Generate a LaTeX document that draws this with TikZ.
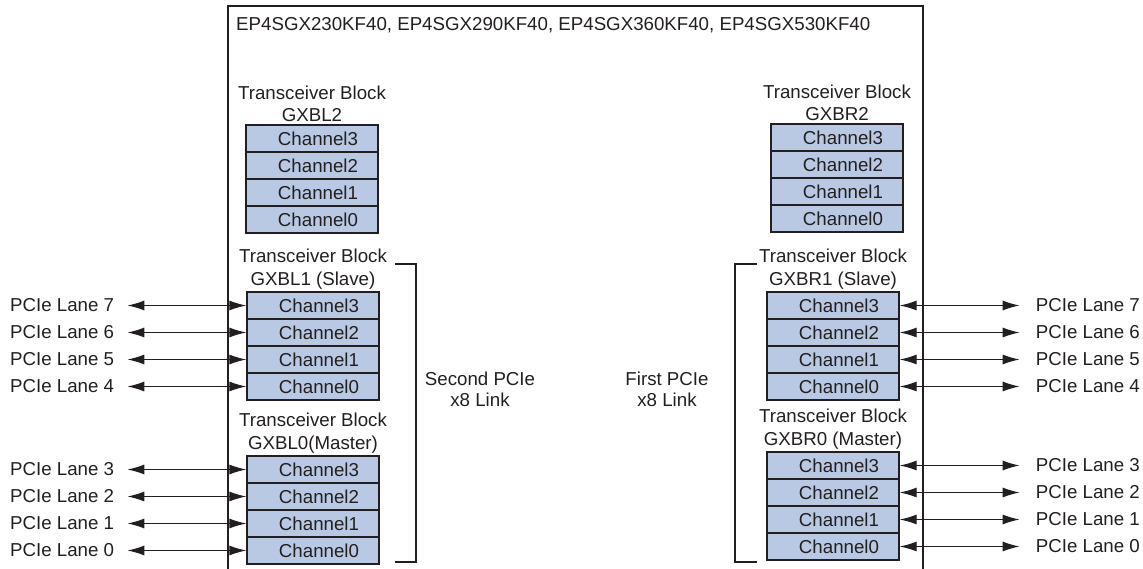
\documentclass[tikz,border=0pt]{standalone}
\usepackage{fontspec}
\setmainfont{Liberation Sans}
\usepackage{xcolor}
\usetikzlibrary{arrows.meta, positioning}
\definecolor{chanblue}{RGB}{185,201,227}
\definecolor{inkgray}{RGB}{35,31,32}

\tikzset{
chan/.style={draw=inkgray, line width=1.3, fill=chanblue, minimum width=132pt, minimum height=27pt, inner sep=0pt},
blocklabel/.style={align=center, inner sep=2pt},
lane/.style={inner sep=0pt},
lanearrow/.style={{Latex[length=17pt,width=10pt]}-{Latex[length=17pt,width=10pt]}, line width=1.2},
}

% one transceiver block: name, centre x, top y, block name
\newcommand{\xcvrblock}[4]{
\foreach \ch [count=\i from 0] in {3,2,1,0}
  \node[chan] (#1c\ch) at (#2,#3+13.5+27*\i) {\hspace*{12pt}Channel\ch};
\node[blocklabel, above=0pt of #1c3.north] (#1lbl) {Transceiver Block\\#4};
}

\begin{document}
\begin{tikzpicture}[x=1pt, y=-1pt, color=inkgray, font=\fontsize{18.7}{22.5}\selectfont]
\useasboundingbox (0,0) rectangle (1143,569);

\draw[line width=1.2] (228,569) -- (228,6) -- (923,6) -- (923,569);
\node[anchor=west, inner sep=0pt] (title) at (236,25) {EP4SGX230KF40, EP4SGX290KF40, EP4SGX360KF40, EP4SGX530KF40};

\xcvrblock{L2}{312}{125}{GXBL2}
\xcvrblock{L1}{313}{292}{GXBL1 (Slave)}
\xcvrblock{L0}{313}{456}{GXBL0(Master)}
\xcvrblock{R2}{837}{124}{GXBR2}
\xcvrblock{R1}{833}{292}{GXBR1 (Slave)}
\xcvrblock{R0}{833}{452}{GXBR0 (Master)}

\foreach \ch/\ln in {3/7,2/6,1/5,0/4}{
  \node[lane, left=132pt of L1c\ch.west] (laneL\ln) {PCIe Lane \ln};
  \draw[lanearrow, shorten >=13pt] (L1c\ch.west) -- (laneL\ln.east);
  \node[lane, right=136pt of R1c\ch.east] (laneR\ln) {PCIe Lane \ln};
  \draw[lanearrow, shorten >=16pt] (R1c\ch.east) -- (laneR\ln.west);
}
\foreach \ch/\ln in {3/3,2/2,1/1,0/0}{
  \node[lane, left=132pt of L0c\ch.west] (laneL\ln) {PCIe Lane \ln};
  \draw[lanearrow, shorten >=13pt] (L0c\ch.west) -- (laneL\ln.east);
  \node[lane, right=136pt of R0c\ch.east] (laneR\ln) {PCIe Lane \ln};
  \draw[lanearrow, shorten >=16pt] (R0c\ch.east) -- (laneR\ln.west);
}

% link brackets
\draw[line width=1.2] (395,264) -| (416,562) -- (395,562);
\draw[line width=1.2] (757,264) -| (735,562) -- (757,562);
\node[align=center, font=\fontsize{18.7}{21}\selectfont] (secondlink) at (480,389) {Second PCIe\\x8 Link};
\node[align=center, font=\fontsize{18.7}{21}\selectfont] (firstlink) at (667,389) {First PCIe\\x8 Link};

\end{tikzpicture}
\end{document}
